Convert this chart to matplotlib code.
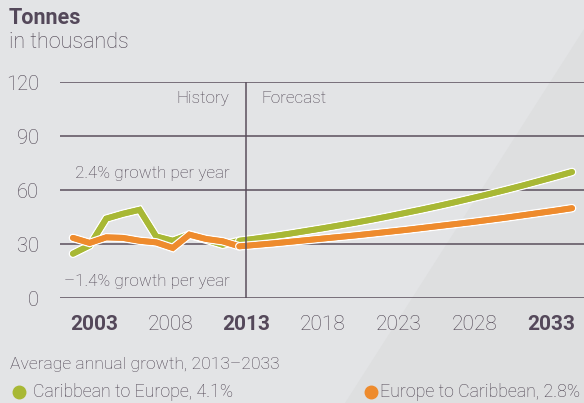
import numpy as np
import matplotlib.pyplot as plt
import matplotlib.patheffects as pe
from matplotlib.patches import Polygon
from matplotlib.lines import Line2D

# adatok
hist_years = list(range(2003, 2014))
fore_years = list(range(2013, 2034))

green_hist = [24.6, 29.2, 44.1, 46.8, 49.0, 34.2, 31.8, 35.2, 32.4, 29.6, 31.8]
orange_hist = [33.4, 30.6, 33.7, 33.4, 31.8, 30.9, 27.8, 35.2, 32.8, 31.5, 28.7]

green_fore = [31.8, 33.0, 34.3, 35.7, 37.2, 38.7, 40.3, 41.9, 43.6, 45.4, 47.3,
              49.2, 51.2, 53.3, 55.5, 57.7, 60.0, 62.4, 64.9, 67.4, 70.0]
orange_fore = [28.7, 29.5, 30.3, 31.2, 32.1, 33.0, 33.9, 34.8, 35.8, 36.8, 37.8,
               38.9, 40.0, 41.1, 42.2, 43.4, 44.6, 45.9, 47.2, 48.5, 49.9]

y_ticks = [0, 30, 60, 90, 120]
x_labels = [2003, 2008, 2013, 2018, 2023, 2028, 2033]
bold_labels = [2003, 2013, 2033]

series_names = ["Caribbean to Europe, 4.1%", "Europe to Caribbean, 2.8%"]

GREEN = "#a8b835"
ORANGE = "#ee8b2d"
GRID = "#5a4f5c"
TEXT = "#4c4250"
DARK = "#54485a"
BG = "#e3e4e6"

plt.rcParams['font.family'] = ['Roboto', 'DejaVu Sans']

W, H = 584, 403
fig = plt.figure(figsize=(W / 100, H / 100), dpi=100, facecolor=BG)

# halvány átlós sáv a jobb oldalon
fig.patches.append(Polygon([(584 / W, 1 - 29 / H), (1, 0), (345 / W, 0)],
                           closed=True, transform=fig.transFigure,
                           facecolor="#dedfe0", edgecolor="none", zorder=-5))

ax = fig.add_axes([60 / W, (H - 298) / H, 524 / W, 216 / H])
ax.set_zorder(2)
ax.set_facecolor("none")
ax.set_xlim(2002.22, 2033.72)
ax.set_ylim(0, 120)

for s in ax.spines.values():
    s.set_visible(False)

for y in y_ticks:
    ax.axhline(y, color=GRID, lw=1.1, zorder=1)

stroke = [pe.withStroke(linewidth=6.2, foreground="white"), pe.Normal()]
for years, vals, c in [(hist_years, green_hist, GREEN), (fore_years, green_fore, GREEN),
                       (hist_years, orange_hist, ORANGE), (fore_years, orange_fore, ORANGE)]:
    ax.plot(years, vals, color=c, lw=4.2, solid_capstyle="round",
            solid_joinstyle="miter", path_effects=stroke, zorder=3, clip_on=False)

ax.set_yticks(y_ticks)
ax.set_yticklabels([str(v) for v in y_ticks], fontsize=14.5, color=TEXT, fontweight="light")
ax.tick_params(axis="y", length=0, pad=15)
ax.set_xticks([])

# címkék tengelye (külön skála)
ax2 = ax.twiny()
ax2.set_xlim(2000.77, 2035.17)
for s in ax2.spines.values():
    s.set_visible(False)
ax2.xaxis.set_ticks_position("bottom")
ax2.set_xticks(x_labels)
ax2.set_xticklabels([str(v) for v in x_labels], fontsize=15, color=TEXT)
ax2.tick_params(axis="x", length=0, pad=12)
for lbl, v in zip(ax2.get_xticklabels(), x_labels):
    if v in bold_labels:
        lbl.set_fontweight("bold")
        lbl.set_color(DARK)
    else:
        lbl.set_fontweight("light")
ax2.axvline(2013, color=GRID, lw=1.1, zorder=1)

txt = dict(fontsize=12.3, color=TEXT, fontweight="light", va="center")
ax2.text(2011.9, 111, "History", ha="right", **txt)
ax2.text(2014.0, 111, "Forecast", ha="left", **txt)
ax2.text(2011.9, 69, "2.4% growth per year", ha="right", **txt)
ax2.text(2011.9, 9, "\u20131.4% growth per year", ha="right", **txt)

fig.text(9 / W, 1 - 18 / H, "Tonnes", fontsize=15.5, fontweight="bold", color=DARK, va="center")
fig.text(9 / W, 1 - 43 / H, "in thousands", fontsize=15.5, fontweight="light", color=TEXT, va="center")

fig.text(10 / W, 1 - 365 / H, "Average annual growth, 2013\u20132033", fontsize=12.6,
         fontweight="light", color=TEXT, va="center")
fig.add_artist(Line2D([19 / W], [1 - 392 / H], marker="o", ms=9, color=GREEN,
                      transform=fig.transFigure))
fig.text(33 / W, 1 - 392 / H, series_names[0], fontsize=12.8, fontweight="light", color=TEXT, va="center")
fig.add_artist(Line2D([371 / W], [1 - 392 / H], marker="o", ms=9, color=ORANGE,
                      transform=fig.transFigure))
fig.text(380 / W, 1 - 392 / H, series_names[1], fontsize=12.8, fontweight="light", color=TEXT, va="center")

plt.savefig("out.png", dpi=100, facecolor=BG)
